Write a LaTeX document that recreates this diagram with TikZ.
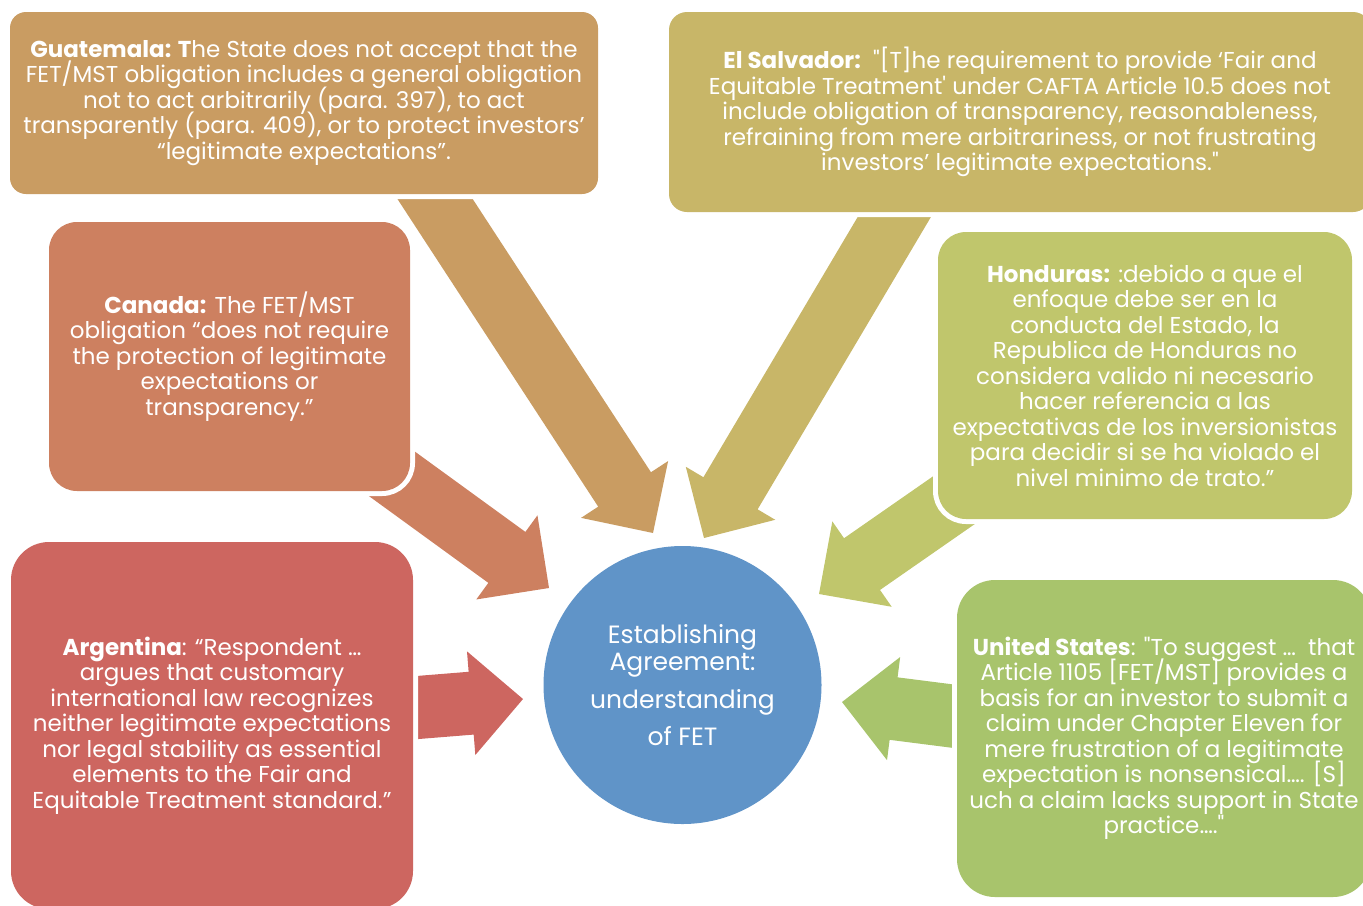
\documentclass[tikz,border=0pt]{standalone}
\usepackage{fontspec}
\setmainfont{Poppins}
\usetikzlibrary{calc}

\definecolor{guatcol}{RGB}{201,156,98}
\definecolor{salvcol}{RGB}{200,182,104}
\definecolor{cancol}{RGB}{205,128,96}
\definecolor{hondcol}{RGB}{192,198,108}
\definecolor{argcol}{RGB}{205,102,96}
\definecolor{uscol}{RGB}{168,196,108}
\definecolor{fetcol}{RGB}{96,148,200}

\newcommand{\boxfont}{\fontsize{11.5}{12.75}\selectfont\lineskiplimit=-6pt\relax}

% block arrow from tail coordinate #2 to tip #3
\newcommand{\fatarrow}[3]{%
  \fill[#1] let \p1=($(#3)-(#2)$), \n1={atan2(\y1,\x1)}, \n2={veclen(\x1,\y1)-26} in
    (#2) ++(\n1+90:15.75pt) -- ++(\n1:\n2) -- ++(\n1+90:10.25pt) -- (#3)
    -- ($(#2)+(\n1:\n2)+(\n1-90:26pt)$) -- ++(\n1+90:10.25pt) -- ++(\n1+180:\n2) -- cycle;
}

\begin{document}
\begin{tikzpicture}[x=0.5pt,y=-0.5pt,
    country/.style={text=white, align=center, inner sep=0pt, font=\boxfont,
      preaction={draw=white, line width=5pt}},
    hub/.style={circle, fill=fetcol, text=white, align=center, inner sep=0pt,
      minimum size=139pt, font=\fontsize{12.5}{13.5}\selectfont}]

    \clip (0,0) rectangle (1363,905);

    % arrow ends
    \coordinate (guat-t) at (407,156);  \coordinate (guat-h) at (653,533);
    \coordinate (salv-t) at (918,177);  \coordinate (salv-h) at (704,538);
    \coordinate (can-t) at (355,447);   \coordinate (can-h) at (549,588);
    \coordinate (hond-t) at (1016,457); \coordinate (hond-h) at (819,594);
    \coordinate (arg-t) at (374,711);   \coordinate (arg-h) at (523,699);
    \coordinate (us-t) at (991,721);    \coordinate (us-h) at (842,702);

    \fatarrow{guatcol}{guat-t}{guat-h}
    \fatarrow{salvcol}{salv-t}{salv-h}
    \fatarrow{cancol}{can-t}{can-h}
    \fatarrow{hondcol}{hond-t}{hond-h}
    \fatarrow{argcol}{arg-t}{arg-h}
    \fatarrow{uscol}{us-t}{us-h}

    \node[country, fill=guatcol, minimum width=294pt, minimum height=91pt, rounded corners=8pt] (guat) at (304,103)
      {{\bfseries Guatemala: T}he State does not accept that the\\
       FET/MST obligation includes a general obligation\\
       not to act arbitrarily (para. 397), to act\\
       transparently (para. 409), or to protect investors’\\
       “legitimate expectations”.};
    \node[country, fill=salvcol, minimum width=351pt, minimum height=100pt, rounded corners=9pt] (salv) at (1020,112)
      {{\bfseries El Salvador:}\ \ \textquotedbl[T]he requirement to provide ‘Fair and\\
       Equitable Treatment\textquotesingle\ under CAFTA Article 10.5 does not\\
       include obligation of transparency, reasonableness,\\
       refraining from mere arbitrariness, or not frustrating\\
       investors’ legitimate expectations.\textquotedbl};
    \node[country, fill=cancol, minimum width=180.5pt, minimum height=134.5pt, rounded corners=14pt] (can) at (229.5,356.5)
      {{\bfseries Canada:} The FET/MST\\
       obligation “does not require\\
       the protection of legitimate\\
       expectations or\\
       transparency.”};
    \node[country, fill=hondcol, minimum width=207pt, minimum height=143.5pt, rounded corners=14pt] (hond) at (1145,375.5)
      {{\bfseries Honduras:} :debido a que el\\
       enfoque debe ser en la\\
       conducta del Estado, la\\
       Republica de Honduras no\\
       considera valido ni necesario\\
       hacer referencia a las\\
       expectativas de los inversionistas\\
       para decidir si se ha violado el\\
       nivel minimo de trato.”};
    \node[country, fill=argcol, minimum width=201pt, minimum height=183.5pt, rounded corners=19pt] (arg) at (212,725.5)
      {{\bfseries Argentina}: “Respondent …\\
       argues that customary\\
       international law recognizes\\
       neither legitimate expectations\\
       nor legal stability as essential\\
       elements to the Fair and\\
       Equitable Treatment standard.”};
    \node[country, fill=uscol, minimum width=207pt, minimum height=158.5pt, rounded corners=19pt] (us) at (1164,738.5)
      {{\bfseries United States}: \textquotedbl To suggest …\ \ that\\
       Article 1105 [FET/MST] provides a\\
       basis for an investor to submit a\\
       claim under Chapter Eleven for\\
       mere frustration of a legitimate\\
       expectation is nonsensical…. [S]\\
       uch a claim lacks support in State\\
       practice….\textquotedbl};

    \node[hub] (fet) at (682.5,685)
      {Establishing\\Agreement:\\[5.5pt]understanding\\[5pt]of FET};
\end{tikzpicture}
\end{document}
